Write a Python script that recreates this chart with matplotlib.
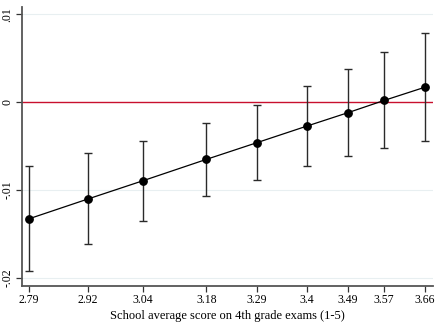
import matplotlib
matplotlib.use("Agg")
import matplotlib.pyplot as plt

x_vals = [2.79, 2.92, 3.04, 3.18, 3.29, 3.40, 3.49, 3.57, 3.66]
x_labels = ["2.79", "2.92", "3.04", "3.18", "3.29", "3.4", "3.49", "3.57", "3.66"]
coef = [-0.01326, -0.0110, -0.00894, -0.0065, -0.00462, -0.00273, -0.00121, 0.00019, 0.0017]
ci_hi = [-0.00724, -0.0058, -0.0044, -0.00235, -0.00038, 0.00182, 0.00379, 0.00565, 0.00784]
ci_lo = [-0.0192, -0.01614, -0.01349, -0.01068, -0.00886, -0.00727, -0.00617, -0.00526, -0.0044]
y_ticks = [-0.02, -0.01, 0, 0.01]
y_labels = ["-.02", "-.01", "0", ".01"]

plt.rcParams['font.family'] = ['Liberation Serif', 'DejaVu Serif']

fig = plt.figure(figsize=(4.37, 3.25), dpi=100)
ax = fig.add_axes([0.0503, 0.12, 0.9405, 0.858])

for yt in [-0.02, -0.01, 0.01]:
    ax.axhline(yt, color="#e8eff1", lw=0.8, zorder=0)
ax.axhline(0, color="#c8102e", lw=1.0, zorder=1)

yerr = [[c - l for c, l in zip(coef, ci_lo)], [h - c for c, h in zip(coef, ci_hi)]]
ax.errorbar(x_vals, coef, yerr=yerr, fmt="none", ecolor="#2a2a2a", elinewidth=1.0,
            capsize=2.7, capthick=1.0, zorder=2)
ax.plot(x_vals, coef, color="black", lw=0.9, marker="o", markersize=5.3,
        markerfacecolor="black", markeredgecolor="black", zorder=3)

ax.set_xlim(2.7746, 3.6776)
ax.set_ylim(-0.0209, 0.0108)
ax.set_xticks(x_vals)
ax.set_xticklabels(x_labels, fontsize=8.5)
ax.set_yticks(y_ticks)
ax.set_yticklabels(y_labels, fontsize=8.5, rotation=90, va="center")
ax.set_xlabel("School average score on 4th grade exams (1-5)", fontsize=9, labelpad=3)

for s in ["top", "right"]:
    ax.spines[s].set_visible(False)
for s in ["left", "bottom"]:
    ax.spines[s].set_color("#555555")
    ax.spines[s].set_linewidth(1.3)
ax.tick_params(axis="both", direction="out", length=4, width=0.9, color="#333333", pad=2)

fig.savefig("out.png", dpi=100, facecolor="white")
